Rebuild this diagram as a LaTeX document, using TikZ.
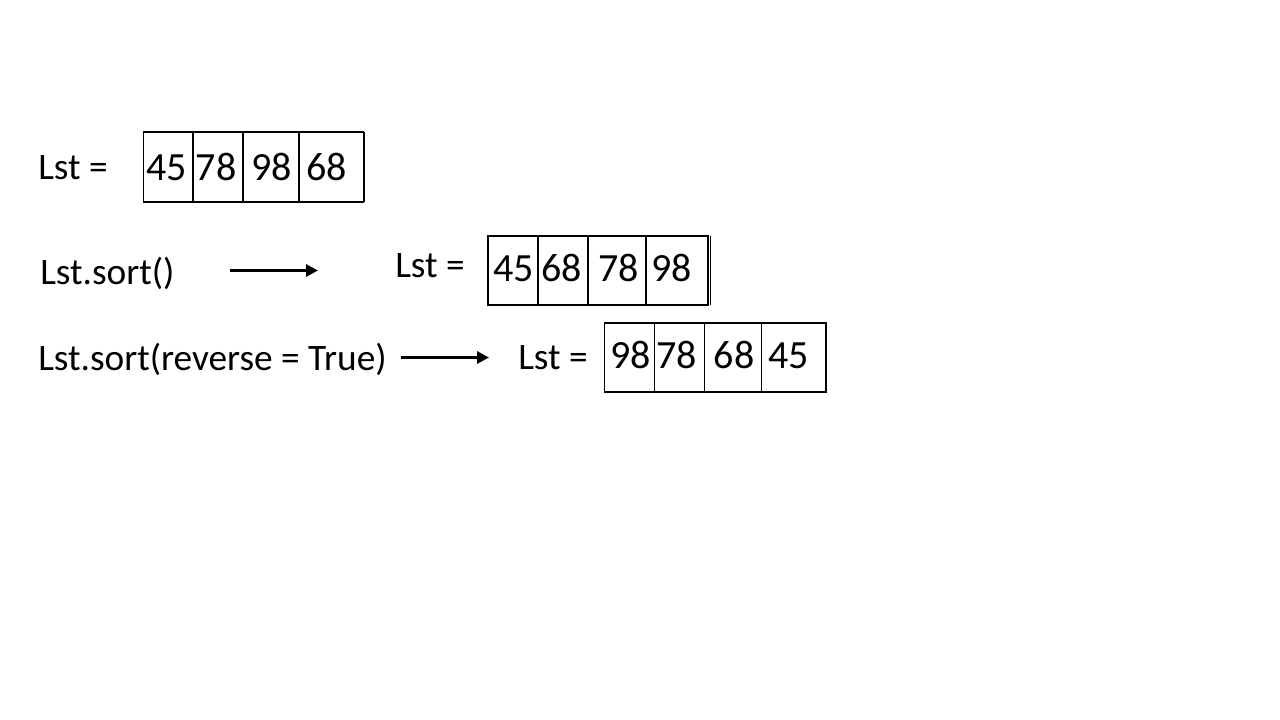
\documentclass[tikz,border=0pt]{standalone}
\usepackage{fontspec}
\setmainfont{Carlito}
\usetikzlibrary{arrows.meta}
\tikzset{
  txt/.style={anchor=base west, inner sep=0pt, font=\fontsize{28}{34}\selectfont},
  num/.style={anchor=base west, inner sep=0pt, font=\fontsize{30}{36}\selectfont},
  cellbox/.style={draw=black, line width=0.8pt},
  bigarrow/.style={line width=2.4pt, -{Triangle[length=9pt,width=9pt]}},
}
\begin{document}
\begin{tikzpicture}[x=0.75pt,y=-0.75pt]
\useasboundingbox (0,0) rectangle (1280,720);
% row 1
\node[txt] (l1) at (38,180) {Lst =};
\draw[cellbox] (143.5,132) rectangle (363.5,202);
\draw[cellbox] (193,132) -- (193,202) (243,132) -- (243,202) (299,132) -- (299,202);
\draw[line width=1.5pt] (363.5,132) -- (363.5,202);
\node[num] (a1) at (146,181) {45};
\node[num] (a2) at (195.5,181) {78};
\node[num] (a3) at (251,181) {98};
\node[num] (a4) at (306,181) {68};
% row 2
\node[txt] (l2) at (40,284) {Lst.sort()};
\coordinate (s1) at (230,270.5);
\coordinate (e1) at (318,270.5);
\draw[bigarrow] (s1) -- (e1);
\node[txt] (l3) at (395,277) {Lst =};
\draw[cellbox] (488,236) rectangle (708,305);
\draw[cellbox] (538,236) -- (538,305) (588,236) -- (588,305) (646,236) -- (646,305);
\draw[cellbox] (710.5,236) -- (710.5,305);
\node[num] (b1) at (493,281) {45};
\node[num] (b2) at (541,281) {68};
\node[num] (b3) at (598,281) {78};
\node[num] (b4) at (651,281) {98};
% row 3
\node[txt] (l4) at (38,370) {Lst.sort(reverse = True)};
\coordinate (s2) at (401,357.5);
\coordinate (e2) at (489,357.5);
\draw[bigarrow] (s2) -- (e2);
\node[txt] (l5) at (518,369.5) {Lst =};
\draw[cellbox] (604.5,323) rectangle (826,392);
\draw[cellbox] (654.5,323) -- (654.5,392) (704.5,323) -- (704.5,392) (761.5,323) -- (761.5,392);
\draw[line width=1.4pt] (826,323) -- (826,392);
\node[num] (c1) at (610,368) {98};
\node[num] (c2) at (656,368) {78};
\node[num] (c3) at (713.5,368) {68};
\node[num] (c4) at (768,368) {45};
\end{tikzpicture}
\end{document}
